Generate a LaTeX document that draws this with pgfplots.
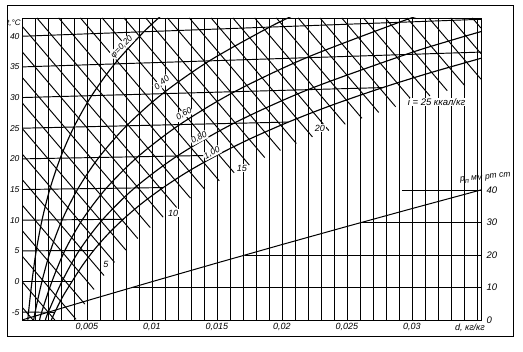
\documentclass[border=0pt]{standalone}
\usepackage{fontspec}
\setmainfont{Liberation Sans}
\usepackage{pgfplots}
\pgfplotsset{compat=1.18}
\pgfplotsset{
  isoI/.style={black, line width=0.95pt, no marks},
  isoT/.style={black, line width=0.95pt, no marks},
  phi/.style={black, line width=1.15pt, no marks, smooth},
}
\tikzset{lbl/.style={font=\fontsize{8.5}{9}\selectfont\itshape, inner sep=0.6pt}}
\begin{document}
\begin{tikzpicture}
\path[use as bounding box] (0pt,0pt) rectangle (523pt,352pt);
\draw[line width=0.8pt] (7pt,16pt) rectangle (513pt,347pt);
\begin{axis}[
  at={(22pt,32pt)}, anchor=south west, scale only axis,
  width=459pt, height=302pt,
  xmin=0, xmax=0.03531, ymin=-6.28, ymax=42.98,
  clip mode=individual,
  scaled x ticks=false,
  xtick={0.005,0.01,0.015,0.02,0.025,0.03},
  xticklabels={{0,005},{0,01},{0,015},{0,02},{0,025},{0,03}},
  minor xtick={0.001,0.002,0.003,0.004,0.006,0.007,0.008,0.009,0.011,0.012,0.013,0.014,0.016,0.017,0.018,0.019,0.021,0.022,0.023,0.024,0.026,0.027,0.028,0.029,0.031,0.032,0.033,0.034,0.035},
  xmajorgrids, xminorgrids,
  major grid style={black, line width=0.7pt},
  minor grid style={black, line width=0.7pt},
  ytick={-5,0,5,10,15,20,25,30,35,40},
  yticklabels={-5,0,5,10,15,20,25,30,35,40},
  major tick length=0pt, minor tick length=0pt,
  xticklabel style={font=\fontsize{9}{10}\selectfont\itshape},
  yticklabel style={font=\fontsize{8.5}{9}\selectfont\itshape, xshift=1pt},
  axis line style={line width=0.9pt},
]
% isotherms t = -5 ... 40 (ending at saturation curve)
\addplot[isoT] coordinates {(0,-5) (0.002523,-5.025)};
\addplot[isoT] coordinates {(0,0) (0.003848,0)};
\addplot[isoT] coordinates {(0,5) (0.005509,5.054)};
\addplot[isoT] coordinates {(0,10) (0.007786,10.152)};
\addplot[isoT] coordinates {(0,15) (0.010865,15.319)};
\addplot[isoT] coordinates {(0,20) (0.014997,20.587)};
\addplot[isoT] coordinates {(0,25) (0.020491,26.003)};
\addplot[isoT] coordinates {(0,30) (0.027752,31.63)};
\addplot[isoT] coordinates {(0,35) (0.03531,37.42)};
\addplot[isoT] coordinates {(0,40) (0.03531,42.77)};
% isenthalps I = -1 ... 31 kcal/kg
\addplot[isoI] coordinates {(0,-4.167) (0.00085,-6.28)};
\addplot[isoI] coordinates {(0,0) (0.002525,-6.28)};
\addplot[isoI] coordinates {(0,4.167) (0.004155,-6.169)};
\addplot[isoI] coordinates {(0,8.333) (0.004835,-3.694)};
\addplot[isoI] coordinates {(0,12.5) (0.005548,-1.301)};
\addplot[isoI] coordinates {(0,16.667) (0.006309,0.973)};
\addplot[isoI] coordinates {(0,20.833) (0.007122,3.117)};
\addplot[isoI] coordinates {(0,25) (0.007992,5.120)};
\addplot[isoI] coordinates {(0,29.167) (0.008907,7.010)};
\addplot[isoI] coordinates {(0,33.333) (0.009865,8.794)};
\addplot[isoI] coordinates {(0,37.5) (0.010861,10.483)};
\addplot[isoI] coordinates {(0,41.667) (0.011895,12.078)};
\addplot[isoI] coordinates {(0.001147,42.98) (0.012957,13.602)};
\addplot[isoI] coordinates {(0.002822,42.98) (0.014054,15.041)};
\addplot[isoI] coordinates {(0.004497,42.98) (0.015174,16.421)};
\addplot[isoI] coordinates {(0.006172,42.98) (0.016320,17.737)};
\addplot[isoI] coordinates {(0.007847,42.98) (0.017488,18.999)};
\addplot[isoI] coordinates {(0.009522,42.98) (0.018677,20.207)};
\addplot[isoI] coordinates {(0.011197,42.98) (0.019883,21.374)};
\addplot[isoI] coordinates {(0.012873,42.98) (0.021107,22.496)};
\addplot[isoI] coordinates {(0.014548,42.98) (0.022347,23.578)};
\addplot[isoI] coordinates {(0.016223,42.98) (0.023601,24.625)};
\addplot[isoI] coordinates {(0.017898,42.98) (0.024869,25.638)};
\addplot[isoI] coordinates {(0.019573,42.98) (0.026150,26.618)};
\addplot[isoI] coordinates {(0.021248,42.98) (0.027441,27.573)};
\addplot[isoI] coordinates {(0.022923,42.98) (0.028745,28.497)};
\addplot[isoI] coordinates {(0.024598,42.98) (0.030060,29.393)};
\addplot[isoI] coordinates {(0.026273,42.98) (0.031384,30.265)};
\addplot[isoI] coordinates {(0.027948,42.98) (0.032715,31.121)};
\addplot[isoI] coordinates {(0.029623,42.98) (0.034054,31.958)};
\addplot[isoI] coordinates {(0.031298,42.98) (0.03531,33.000)};
\addplot[isoI] coordinates {(0.032973,42.98) (0.03531,37.167)};
\addplot[isoI] coordinates {(0.034648,42.98) (0.03531,41.333)};
% relative humidity curves
\addplot[phi] coordinates {(0.000449,-6.32) (0.000503,-5.005) (0.000766,0) (0.001094,5.011) (0.001542,10.030) (0.002143,15.063) (0.002943,20.115) (0.003993,25.196) (0.005359,30.315) (0.007124,35.488) (0.009377,40.734) (0.011012,43.93)};
\addplot[phi] coordinates {(0.000900,-6.32) (0.001007,-5.010) (0.001533,0) (0.002192,5.021) (0.003091,10.061) (0.004301,15.126) (0.005913,20.232) (0.008037,25.393) (0.010811,30.635) (0.014413,35.988) (0.019040,41.491) (0.021240,43.75)};
\addplot[phi] coordinates {(0.001350,-6.32) (0.001511,-5.015) (0.002303,0) (0.003293,5.032) (0.004648,10.091) (0.006474,15.190) (0.008912,20.349) (0.012135,25.594) (0.016359,30.961) (0.021873,36.499) (0.029004,42.27) (0.030665,43.46)};
\addplot[phi] coordinates {(0.001802,-6.32) (0.002017,-5.020) (0.003074,0) (0.004399,5.043) (0.006213,10.122) (0.008662,15.254) (0.011940,20.468) (0.016285,25.797) (0.022005,31.293) (0.029510,37.02) (0.033113,39.40) (0.035060,40.61) (0.037116,41.83)};
\addplot[phi] coordinates {(0.002254,-6.31) (0.002523,-5.025) (0.003121,-2.515) (0.003848,0) (0.004618,2.52) (0.005509,5.054) (0.006556,7.60) (0.007786,10.152) (0.009210,12.73) (0.010865,15.319) (0.012772,17.94) (0.014997,20.587) (0.017547,23.27) (0.020491,26.003) (0.023876,28.79) (0.027752,31.63) (0.031270,33.96) (0.035198,36.34) (0.03733,37.56)};
% labels
\node[lbl, fill=white, rotate=45] at (axis cs:0.00769,38.25) {φ=0,20};
\node[lbl, fill=white, rotate=40] at (axis cs:0.01077,32.38) {0,40};
\node[lbl, fill=white, rotate=30] at (axis cs:0.01246,27.32) {0,60};
\node[lbl, fill=white, rotate=28] at (axis cs:0.01362,23.41) {0,80};
\node[lbl, fill=white, rotate=28] at (axis cs:0.01462,20.96) {1,00};
\node[lbl, font=\fontsize{9}{10}\selectfont\itshape, fill=white] at (axis cs:0.00646,2.85) {5};
\node[lbl, font=\fontsize{9}{10}\selectfont\itshape, fill=white] at (axis cs:0.01162,11.17) {10};
\node[lbl, font=\fontsize{9}{10}\selectfont\itshape, fill=white] at (axis cs:0.01692,18.51) {15};
\node[lbl, font=\fontsize{9}{10}\selectfont\itshape, fill=white] at (axis cs:0.02292,25.04) {20};
\node[lbl, font=\fontsize{9.5}{10}\selectfont\itshape, fill=white, anchor=west] at (axis cs:0.02962,29.28) {i = 25 ккал/кг};
\node[lbl, font=\fontsize{8}{9}\selectfont\itshape] at (axis cs:-0.00062,42.2) {t,°C};
\node[lbl, font=\fontsize{9}{10}\selectfont\itshape] at (axis cs:0.03446,-7.5) {d, кг/кг};
\node[lbl, rotate=6] at (axis cs:0.03565,16.9) {p\raisebox{-0.4ex}{\scriptsize п} мм рт ст};
\end{axis}
\begin{axis}[
  at={(22pt,32pt)}, anchor=south west, scale only axis,
  width=459pt, height=302pt,
  xmin=0, xmax=0.03531, ymin=0, ymax=92.92,
  axis x line=none, axis y line*=right,
  ytick={0,10,20,30,40},
  yticklabels={0,10,20,30,40},
  major tick length=0pt,
  tick label style={font=\fontsize{9.5}{10}\selectfont\itshape},
  axis line style={line width=0.9pt},
  yticklabel style={xshift=2pt},
]
\addplot[black, line width=1pt, no marks] coordinates {(0,0) (0.005,5.941) (0.01,11.788) (0.015,17.543) (0.02,23.209) (0.025,28.787) (0.03,34.279) (0.03531,40.02)};
\addplot[black, line width=0.9pt, no marks] coordinates {(0.008463,10) (0.03531,10)};
\addplot[black, line width=0.9pt, no marks] coordinates {(0.017159,20) (0.03531,20)};
\addplot[black, line width=0.9pt, no marks] coordinates {(0.026098,30) (0.03531,30)};
\addplot[black, line width=0.9pt, no marks] coordinates {(0.02923,40) (0.03531,40)};
\end{axis}
\end{tikzpicture}
\end{document}
